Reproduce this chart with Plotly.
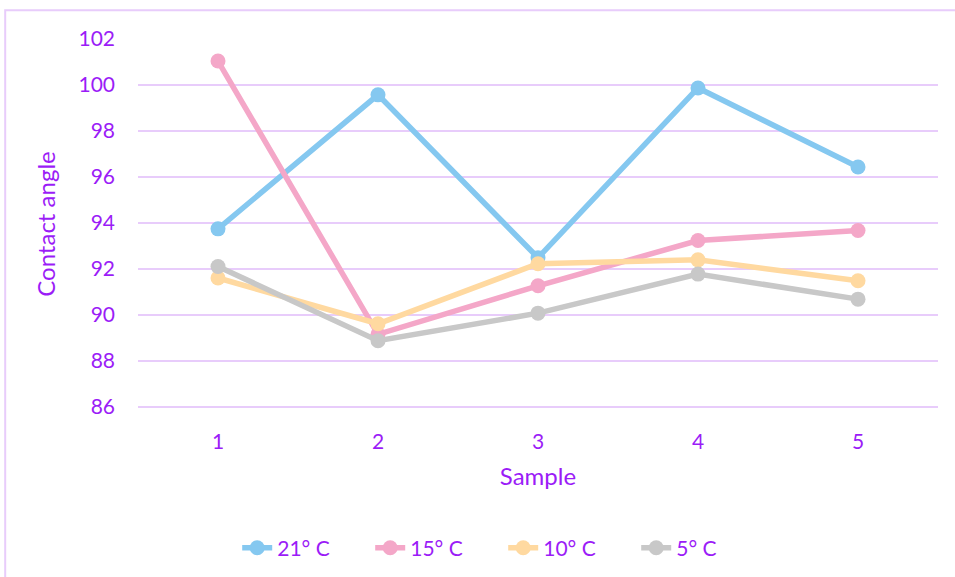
import plotly.graph_objects as go

# Contact angle per sample at four temperatures
samples = ["1", "2", "3", "4", "5"]
series_names = ["21° C", "15° C", "10° C", "5° C"]
angle_21 = [93.74, 99.57, 92.48, 99.87, 96.43]
angle_15 = [101.04, 89.15, 91.26, 93.23, 93.67]
angle_10 = [91.60, 89.61, 92.22, 92.39, 91.48]
angle_5 = [92.10, 88.87, 90.07, 91.77, 90.68]
y_ticks = [86, 88, 90, 92, 94, 96, 98, 100, 102]

colors = ["#85C8F0", "#F4A7C8", "#FFD9A0", "#C8C8C8"]
text_color = "#9B1CF7"
grid_color = "#E8CCFB"
font_family = "Lato, 'Open Sans', sans-serif"

fig = go.Figure()
for name, vals, col in zip(series_names, [angle_21, angle_15, angle_10, angle_5], colors):
    fig.add_trace(go.Scatter(
        x=samples, y=vals, name=name, mode="lines+markers",
        line=dict(color=col, width=5.5),
        marker=dict(color=col, size=15),
    ))

fig.update_layout(
    width=955, height=577,
    margin=dict(l=138, r=17, t=39, b=168, autoexpand=False),
    paper_bgcolor="white", plot_bgcolor="white",
    font=dict(family=font_family, color=text_color, size=20),
    showlegend=True,
    legend=dict(orientation="h", x=0.124, xanchor="left", y=-0.376, yanchor="middle",
                font=dict(size=21, color=text_color),
                entrywidth=88, entrywidthmode="pixels"),
    xaxis=dict(
        type="category", range=[-0.5, 4.5], showgrid=False, zeroline=False,
        showline=False, ticks="", ticklabelstandoff=18, automargin=False,
        tickfont=dict(size=21, color=text_color),
        title=dict(text="Sample", font=dict(size=24, color=text_color), standoff=16),
    ),
    yaxis=dict(
        range=[85.9, 102], tickvals=y_ticks, showgrid=True, gridcolor=grid_color,
        gridwidth=2, zeroline=False, showline=False, ticks="",
        ticklabelstandoff=22, automargin=False,
        tickfont=dict(size=21, color=text_color),
        title=dict(text="Contact angle", font=dict(size=24, color=text_color), standoff=16),
    ),
    shapes=[dict(type="rect", xref="paper", yref="paper",
                 x0=-0.166, x1=1.05, y0=-0.6, y1=1.0774,
                 line=dict(color="#E8CCFB", width=2), layer="below")],
)

fig.write_html("out.html")
